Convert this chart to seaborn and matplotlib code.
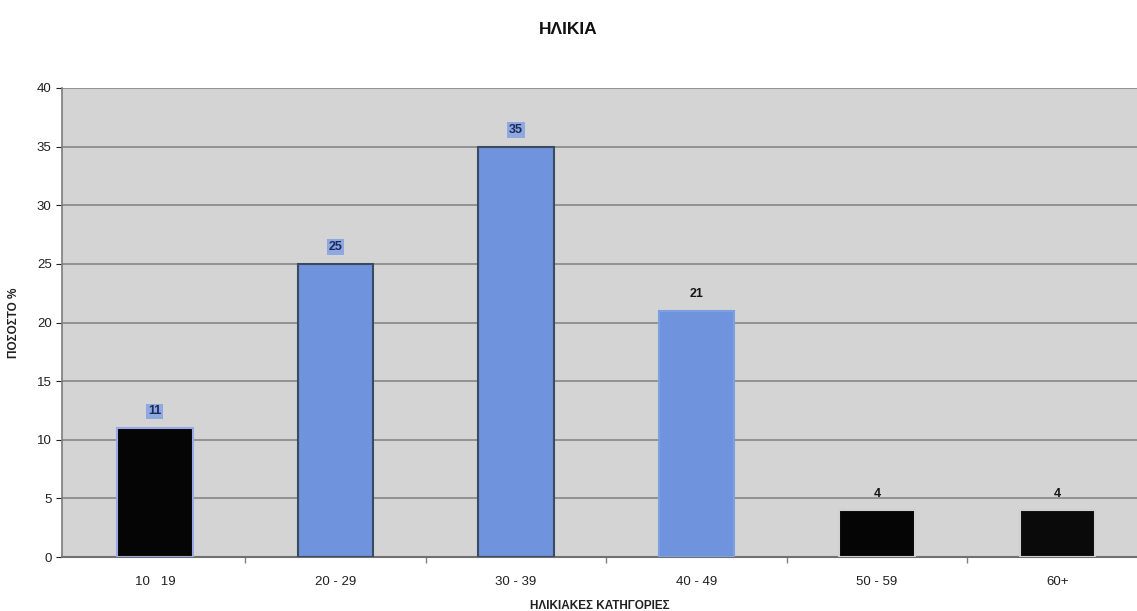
import matplotlib
matplotlib.use("Agg")
import matplotlib.pyplot as plt
from matplotlib.ticker import FixedLocator
import seaborn as sns
import pandas as pd

categories = ["10   19", "20 - 29", "30 - 39", "40 - 49", "50 - 59", "60+"]
values = [11, 25, 35, 21, 4, 4]
bar_colors = ["#050505", "#6f93dc", "#6f93dc", "#6f93dc", "#050505", "#0a0a0a"]
edge_colors = ["#9aa8e8", "#3a4a60", "#3a4a60", "#7fa0e0", "#d0d0d0", "#d0d0d0"]
label_boxed = [True, True, True, False, False, False]
yticks = [0, 5, 10, 15, 20, 25, 30, 35, 40]

sns.set_theme(style="white")
plt.rcParams["font.family"] = ["Liberation Sans", "DejaVu Sans"]

df = pd.DataFrame({"cat": categories, "val": values})

fig = plt.figure(figsize=(11.37, 6.11), dpi=100)
ax = fig.add_axes([62 / 1137, 1 - 557 / 611, 1 - 62 / 1137, (557 - 88) / 611])
ax.set_facecolor("#d4d4d4")

sns.barplot(data=df, x="cat", y="val", hue="cat", palette=bar_colors,
            legend=False, width=0.42, ax=ax, zorder=3, saturation=1)

for patch, ec in zip(ax.patches, edge_colors):
    patch.set_edgecolor(ec)
    patch.set_linewidth(1.5)

ax.set_ylim(0, 40)
ax.set_xlim(-0.515, 5.44)
ax.set_yticks(yticks)
ax.yaxis.grid(True, color="#808080", linewidth=1.1, zorder=0)
ax.set_axisbelow(True)

# small tick marks on the category boundaries
ax.xaxis.set_minor_locator(FixedLocator([0.5, 1.5, 2.5, 3.5, 4.5]))
ax.tick_params(axis="x", which="minor", length=4, bottom=True, color="#808080")

for s in ["top", "right"]:
    ax.spines[s].set_visible(False)
ax.spines["left"].set_color("#808080")
ax.spines["bottom"].set_color("#707070")
ax.spines["bottom"].set_linewidth(1.5)

ax.tick_params(axis="y", labelsize=9.5, colors="#202020", length=4, left=True, width=0.8)
ax.tick_params(axis="x", which="major", labelsize=9.5, colors="#202020", length=0, pad=14)

for i, (v, boxed) in enumerate(zip(values, label_boxed)):
    if boxed:
        ax.text(i, v + 0.9, str(v), ha="center", va="bottom", fontsize=9,
                fontweight="bold", color="#1a2a5a",
                bbox=dict(boxstyle="square,pad=0.15", fc="#8fa8e0", ec="none"))
    else:
        ax.text(i, v + 0.9, str(v), ha="center", va="bottom", fontsize=9,
                fontweight="bold", color="#151515")

ax.set_xlabel("ΗΛΙΚΙΑΚΕΣ ΚΑΤΗΓΟΡΙΕΣ", fontsize=8.5, fontweight="bold",
              color="#202020", labelpad=8)
ax.set_ylabel("ΠΟΣΟΣΤΟ %", fontsize=8.5, fontweight="bold", color="#202020",
              labelpad=12)

fig.text(568 / 1137, 1 - 30 / 611, "ΗΛΙΚΙΑ", ha="center", va="center",
         fontsize=12.5, fontweight="bold", color="#111111")

fig.savefig("out.png", dpi=100)
